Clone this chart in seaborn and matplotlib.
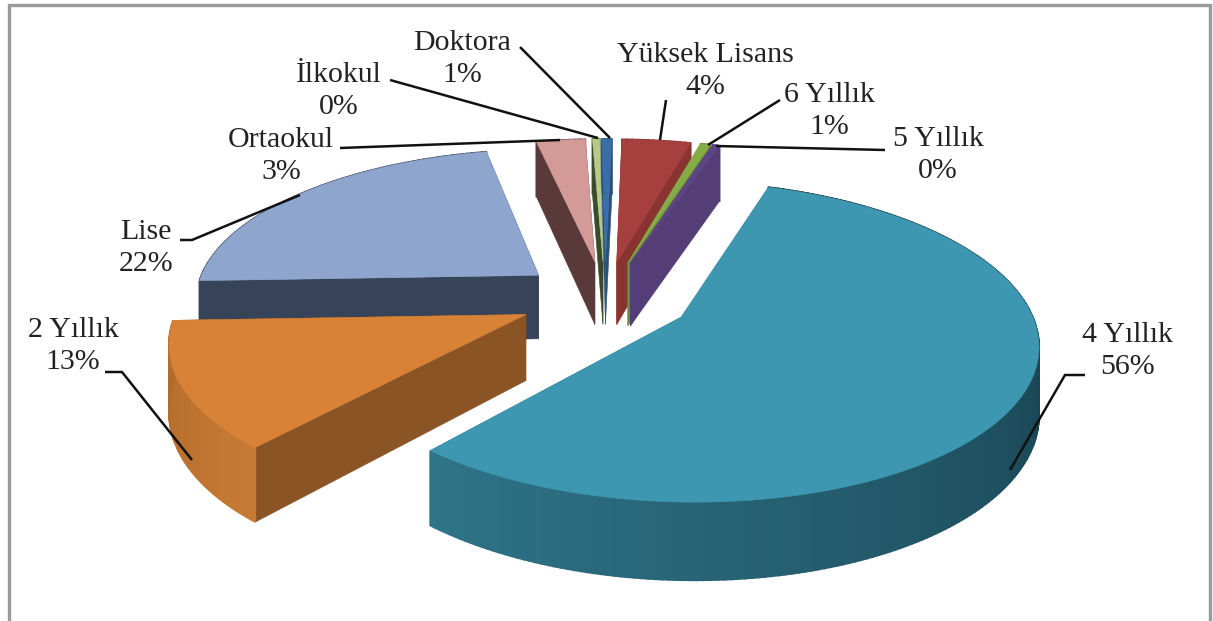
import numpy as np
import pandas as pd
import matplotlib
matplotlib.use("Agg")
import matplotlib.pyplot as plt
import seaborn as sns
from matplotlib.patches import Polygon

categories = ["Doktora", "Yüksek Lisans", "6 Yıllık", "5 Yıllık", "4 Yıllık",
              "2 Yıllık", "Lise", "Ortaokul", "İlkokul"]
shares = [0.55, 3.8, 0.55, 0.4, 56.3, 13.0, 22.3, 2.7, 0.4]
top_colors = ["#3A6EA8", "#A5403E", "#86AC48", "#5D4585", "#3E97B0",
              "#D88238", "#8EA5CE", "#D49A98", "#B4CB8C"]
side_colors = ["#2A5078", "#8A3431", "#6A8A38", "#553E78", "#2F7689",
               "#8A5424", "#374358", "#59393A", "#3B4A2A"]
rim_from = ["#2A5078", "#8A3431", "#6A8A38", "#553E78", "#0A2630",
            "#C67A34", "#374358", "#59393A", "#3B4A2A"]
rim_to = ["#2A5078", "#8A3431", "#6A8A38", "#553E78", "#2F7488",
          "#B06A2A", "#374358", "#59393A", "#3B4A2A"]
label_xy = [(462, 59), (705, 71), (829, 111), (938, 155), (1127, 351),
            (73, 346), (146, 248), (281, 156), (339, 91)]
leaders = [[(520, 47), (610, 138)],
           [(666, 100), (660, 140)],
           [(780, 100), (708, 145)],
           [(885, 150), (716, 146)],
           [(1085, 375), (1065, 375), (1010, 470)],
           [(105, 372), (122, 372), (192, 460)],
           [(180, 240), (192, 240), (300, 195)],
           [(340, 148), (560, 140)],
           [(390, 80), (598, 138)]]

df = pd.DataFrame({"cat": categories, "share": shares})
sns.set_theme(style="white")
plt.rcParams["font.family"] = ["Liberation Serif", "DejaVu Serif"]

W, H = 1213, 621
CX, CY, RX, RY, K, DEPTH, EXPLODE, START = 605, 298, 345, 151, 0.15, 65, 0.25, -0.012


def project(u, v, z=0.0):
    w = 1 + K * np.asarray(v)
    return CX + RX * np.asarray(u) / w, CY + (-RY * np.asarray(v) + DEPTH * z) / w


fig = plt.figure(figsize=(W / 100, H / 100), dpi=100)
ax = fig.add_axes([0, 0, 1, 1])
ax.set_xlim(0, W)
ax.set_ylim(H, 0)
ax.axis("off")

edges = START + np.concatenate([[0], np.cumsum(df["share"].to_numpy())]) / df["share"].sum() * 2 * np.pi
mids = (edges[:-1] + edges[1:]) / 2
order = np.argsort(-np.cos(mids))


def add_poly(xs, ys, color, zorder, lw=0.4):
    ax.add_patch(Polygon(np.column_stack([xs, ys]), closed=True, facecolor=color,
                         edgecolor=color, linewidth=lw, zorder=zorder))


for rank, i in enumerate(order):
    z0 = 2 + rank
    a0, a1, am = edges[i], edges[i + 1], mids[i]
    eu, ev = EXPLODE * np.sin(am), EXPLODE * np.cos(am)
    th = np.linspace(a0, a1, max(8, int((a1 - a0) * 60)))
    u = eu + np.sin(th)
    v = ev + np.cos(th)
    for a in (a0, a1) if np.sin(am) >= 0 else (a1, a0):
        ue, ve = eu + np.sin(a), ev + np.cos(a)
        p = [project(eu, ev, 0), project(ue, ve, 0), project(ue, ve, 1), project(eu, ev, 1)]
        add_poly([q[0] for q in p], [q[1] for q in p], side_colors[i], z0)
    pal = sns.blend_palette([rim_from[i], rim_to[i]], len(th))
    for j in range(len(th) - 1):
        x0, y0 = project(u[j:j + 2], v[j:j + 2], 0)
        x1, y1 = project(u[j:j + 2], v[j:j + 2], 1)
        add_poly(np.r_[x0, x1[::-1]], np.r_[y0, y1[::-1]], pal[j], z0 + 0.1, lw=1.2)
    xt, yt = project(np.r_[eu, u], np.r_[ev, v], 0)
    add_poly(xt, yt, top_colors[i], z0 + 0.2)

for name, share, xy, path in zip(df["cat"], df["share"], label_xy, leaders):
    ax.text(xy[0], xy[1], f"{name}\n{share:.0f}%", ha="center", va="center", fontsize=21.5,
            color="#222222", linespacing=1.28, zorder=40)
    px, py = zip(*path)
    ax.plot(px, py, color="#111111", lw=1.8, zorder=30, solid_capstyle="butt")

ax.plot([8.5, 8.5, 1209.5, 1209.5], [621, 4.5, 4.5, 621], color="#9A9A9A", lw=2.4, zorder=50,
        solid_joinstyle="miter")
fig.savefig("out.png", dpi=100, facecolor="white")
